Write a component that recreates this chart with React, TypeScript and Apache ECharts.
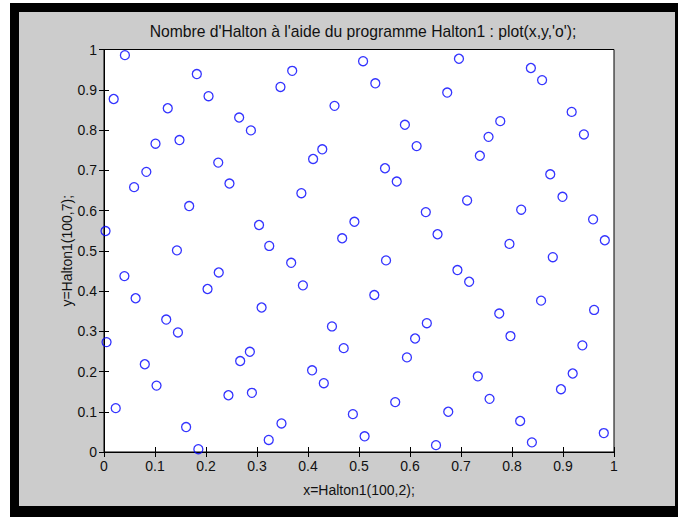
import React, { useEffect, useRef } from "react";
import * as echarts from "echarts";

// Halton points: x = Halton1(100,2), y = Halton1(100,7)
const xs: number[] = [
  0.041, 0.019, 0.125, 0.182, 0.205, 0.265, 0.288, 0.101, 0.148, 0.083,
  0.059, 0.224, 0.246, 0.167, 0.003, 0.304, 0.143, 0.324,
  0.369, 0.346, 0.508, 0.532, 0.452, 0.590, 0.613, 0.428, 0.410, 0.551,
  0.574, 0.387, 0.631, 0.491, 0.467, 0.654,
  0.696, 0.837, 0.859, 0.673, 0.917, 0.777, 0.941, 0.754, 0.737, 0.875,
  0.899, 0.712, 0.818, 0.959, 0.795, 0.982,
  0.040, 0.225, 0.203, 0.062, 0.309, 0.122, 0.145, 0.005, 0.286, 0.267,
  0.080, 0.103, 0.244, 0.290, 0.023, 0.161, 0.185, 0.323,
  0.367, 0.553, 0.390, 0.530, 0.447, 0.633, 0.610, 0.470, 0.594, 0.408,
  0.431, 0.571, 0.488, 0.348, 0.511, 0.651,
  0.880, 0.693, 0.716, 0.857, 0.961, 0.775, 0.797, 0.938, 0.733, 0.919,
  0.896, 0.756, 0.675, 0.816, 0.980, 0.839,
];

const ys: number[] = [
  0.986, 0.877, 0.854, 0.939, 0.884, 0.831, 0.799, 0.766, 0.775, 0.696,
  0.658, 0.719, 0.667, 0.611, 0.549, 0.564, 0.501, 0.512,
  0.947, 0.907, 0.971, 0.916, 0.860, 0.813, 0.760, 0.752, 0.728, 0.705,
  0.672, 0.643, 0.596, 0.572, 0.531, 0.541,
  0.977, 0.954, 0.924, 0.893, 0.845, 0.822, 0.789, 0.783, 0.736, 0.690,
  0.634, 0.625, 0.602, 0.578, 0.517, 0.526,
  0.437, 0.446, 0.405, 0.382, 0.359, 0.329, 0.297, 0.273, 0.249, 0.226,
  0.218, 0.165, 0.141, 0.147, 0.109, 0.062, 0.007, 0.030,
  0.470, 0.476, 0.414, 0.390, 0.312, 0.320, 0.282, 0.258, 0.235, 0.203,
  0.171, 0.124, 0.094, 0.071, 0.039, 0.017,
  0.484, 0.452, 0.423, 0.376, 0.353, 0.344, 0.288, 0.265, 0.188, 0.195,
  0.156, 0.132, 0.100, 0.077, 0.047, 0.024,
];

const titleText = "Nombre d'Halton à l'aide du programme Halton1 : plot(x,y,'o');";
const xLabel = "x=Halton1(100,2);";
const yLabel = "y=Halton1(100,7);";

const FONT = "'Liberation Sans', Arial, sans-serif";

const GRID = { left: 104, top: 49.5, width: 510, height: 402.5 };

function axisBase(showLabels: boolean) {
  return {
    type: "value" as const,
    min: 0,
    max: 1,
    interval: 0.1,
    axisLine: { show: true, lineStyle: { color: "#000", width: 1 } },
    axisTick: { show: true, inside: true, length: 5, lineStyle: { color: "#000", width: 1 } },
    splitLine: { show: false },
    axisLabel: {
      show: showLabels,
      color: "#111",
      fontSize: 14,
      fontFamily: FONT,
      margin: 7,
      formatter: (v: number) => String(Math.round(v * 10) / 10),
    },
  };
}

export default function App() {
  const ref = useRef<HTMLDivElement>(null);

  useEffect(() => {
    if (!ref.current) return;
    const chart = echarts.init(ref.current, undefined, { renderer: "svg" });
    const points = xs.map((x, i) => [x, ys[i]]);
    const cx = GRID.left + GRID.width / 2;
    const cy = GRID.top + GRID.height / 2;
    chart.setOption({
      animation: false,
      backgroundColor: "transparent",
      grid: {
        ...GRID,
        show: true,
        backgroundColor: "#fff",
        borderColor: "#000",
        borderWidth: 1,
      },
      xAxis: [
        { ...axisBase(true), position: "bottom" },
        { ...axisBase(false), position: "top" },
      ],
      yAxis: [
        { ...axisBase(true), position: "left" },
        { ...axisBase(false), position: "right" },
      ],
      series: [
        {
          type: "scatter",
          data: points,
          symbol: "circle",
          symbolSize: 9,
          itemStyle: { color: "rgba(0,0,0,0)", borderColor: "#0000ff", borderWidth: 1.3 },
          emphasis: { disabled: true },
        },
      ],
      graphic: [
        {
          type: "text",
          x: cx + 4,
          y: 31,
          style: {
            text: titleText,
            fontSize: 15.7,
            fontFamily: FONT,
            fill: "#111",
            align: "center",
            verticalAlign: "middle",
          },
        },
        {
          type: "text",
          x: cx,
          y: 490,
          style: {
            text: xLabel,
            fontSize: 14,
            fontFamily: FONT,
            fill: "#111",
            align: "center",
            verticalAlign: "middle",
          },
        },
        {
          type: "text",
          x: 67,
          y: cy,
          rotation: Math.PI / 2,
          style: {
            text: yLabel,
            fontSize: 14,
            fontFamily: FONT,
            fill: "#111",
            align: "center",
            verticalAlign: "middle",
          },
        },
      ],
    });
    return () => chart.dispose();
  }, []);

  return (
    <div
      style={{
        position: "fixed",
        left: 0,
        top: 0,
        width: 678,
        height: 517,
        background: "#fff",
        overflow: "hidden",
      }}
    >
      <div style={{ position: "absolute", left: 10, top: 3, width: 700, height: 600, background: "#000" }} />
      <div style={{ position: "absolute", left: 19, top: 12, width: 656, height: 494, background: "#cccccc" }} />
      <div ref={ref} style={{ position: "absolute", left: 0, top: 0, width: 678, height: 517 }} />
    </div>
  );
}
